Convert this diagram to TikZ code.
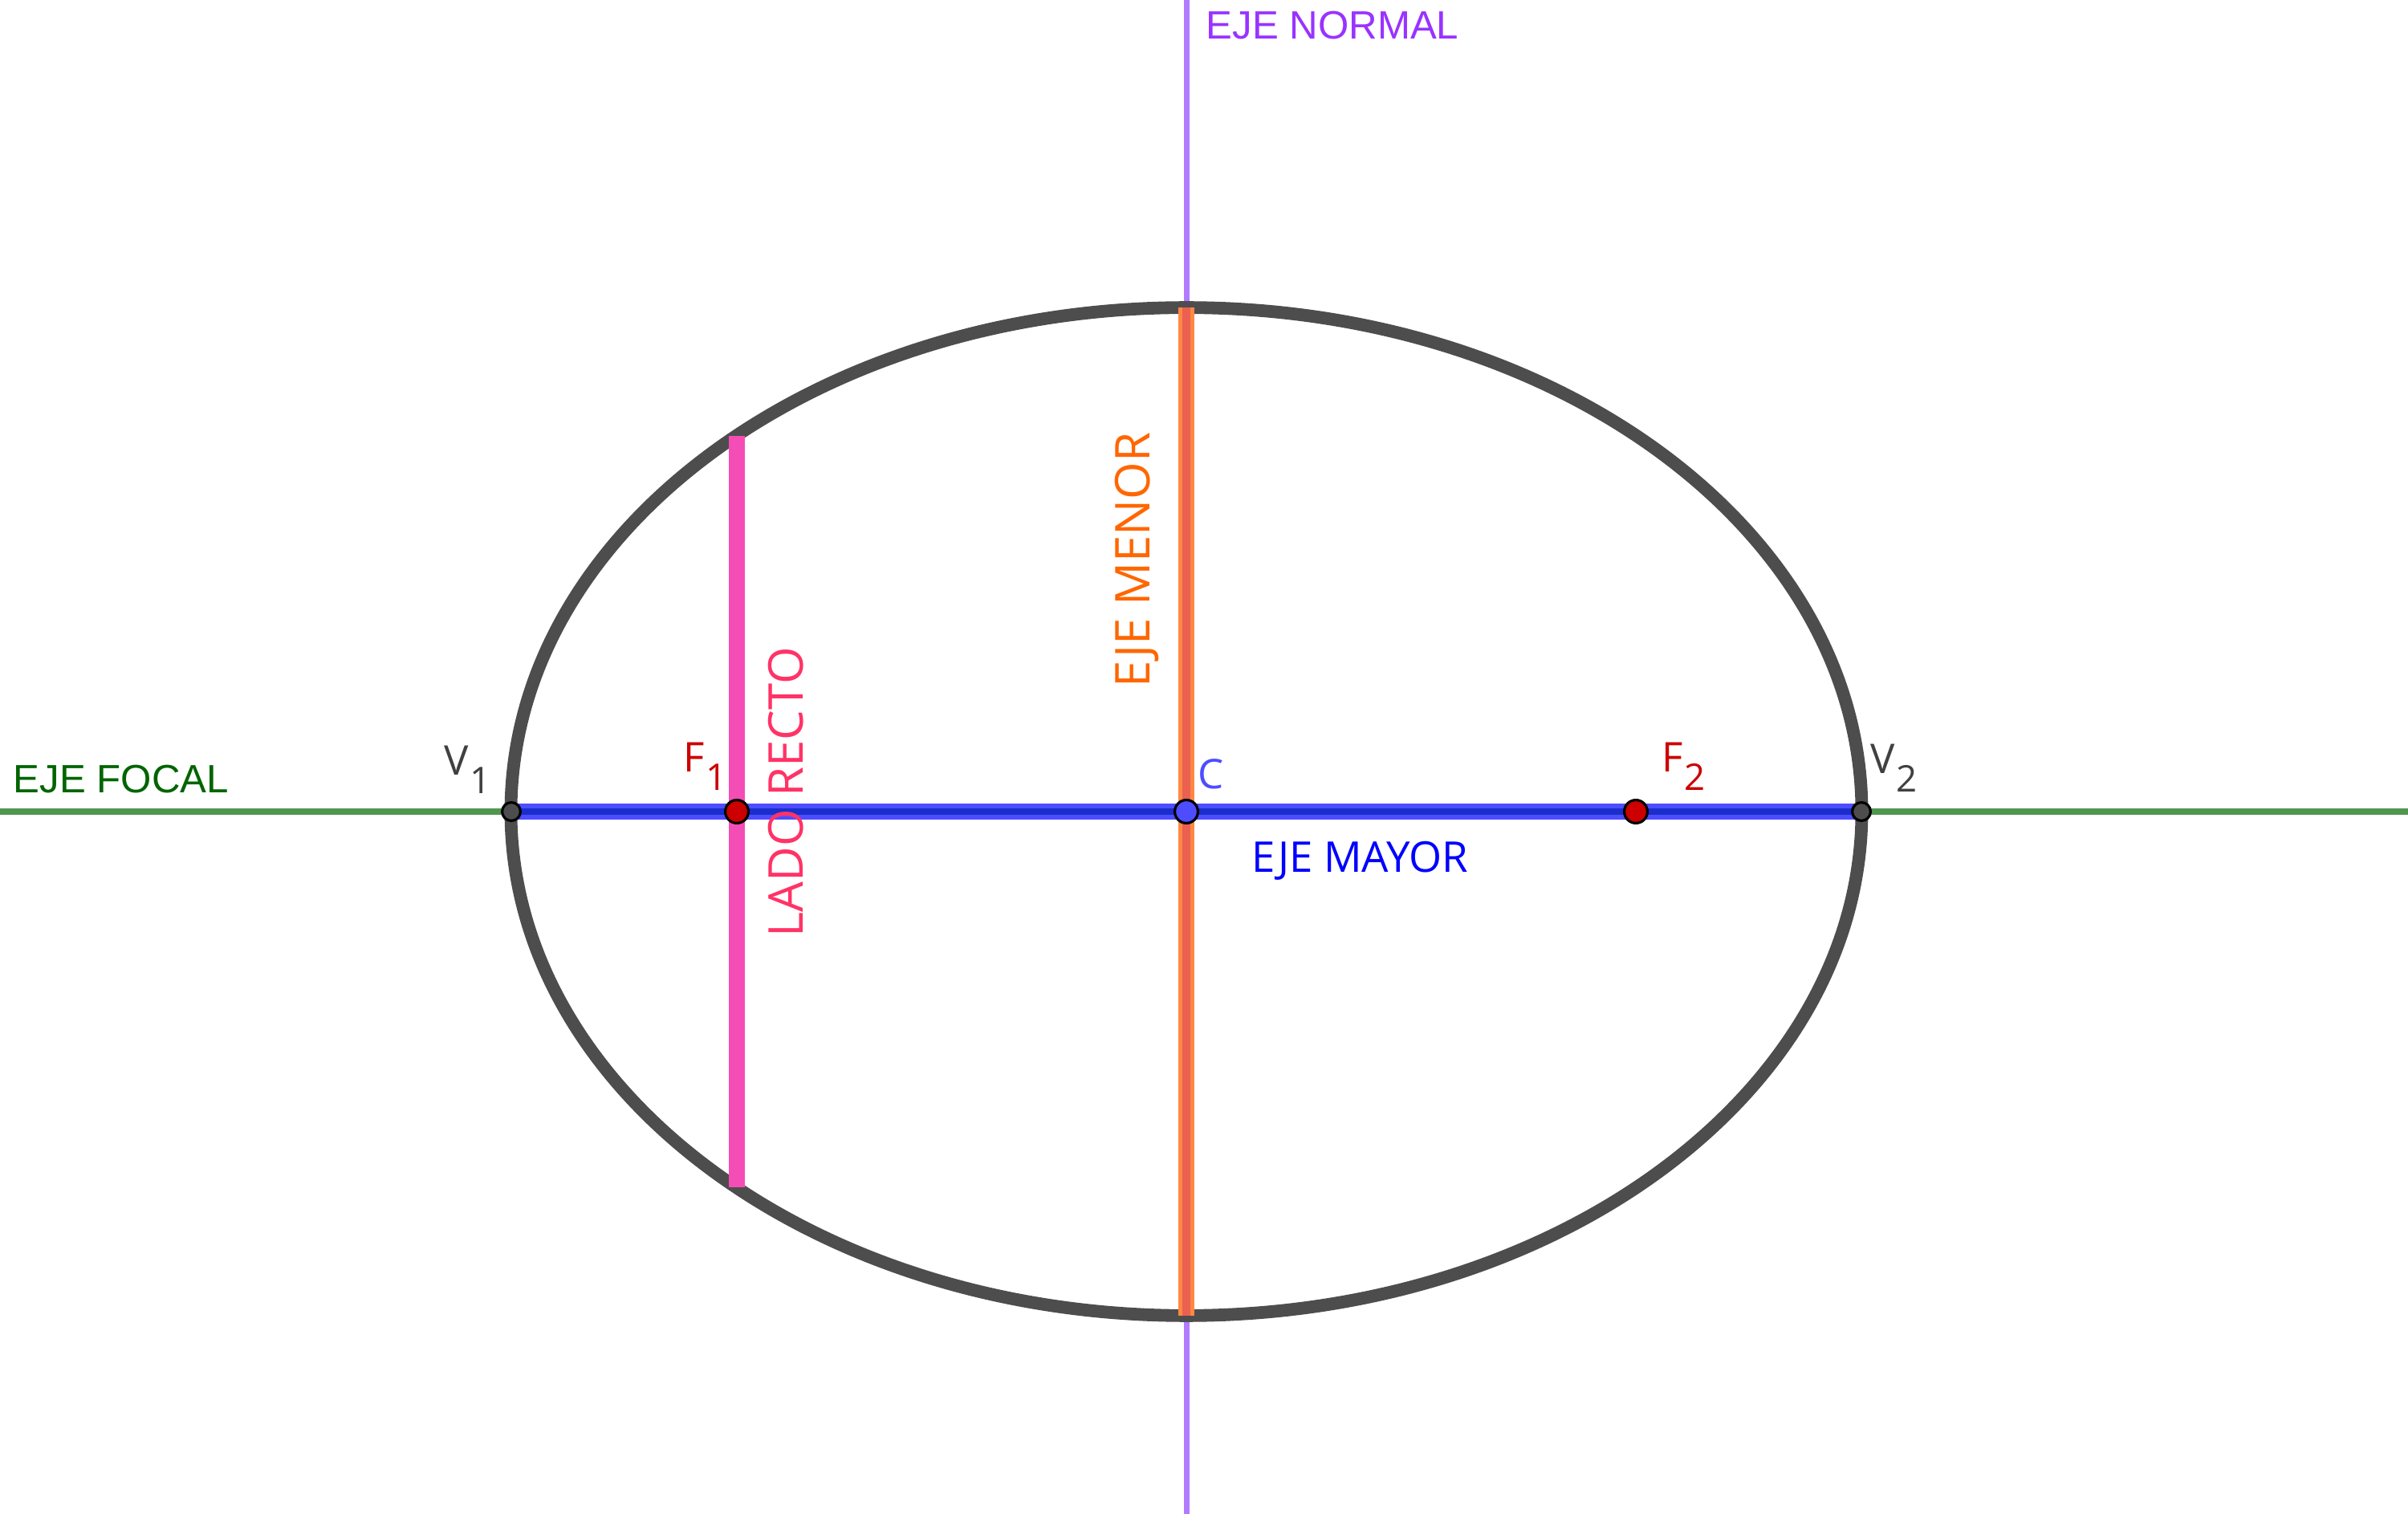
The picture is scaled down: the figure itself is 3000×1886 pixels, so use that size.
\documentclass[tikz,border=0pt]{standalone}
\usepackage{fontspec}
\setmainfont{Open Sans}
\newfontfamily\axisfont{Liberation Sans}

\definecolor{focalline}{RGB}{80,150,80}
\definecolor{focaltext}{RGB}{0,100,0}
\definecolor{normalline}{RGB}{178,122,255}
\definecolor{normaltext}{RGB}{153,51,255}
\definecolor{ellgray}{RGB}{77,77,77}
\definecolor{majorblue}{RGB}{77,77,255}
\definecolor{majordark}{RGB}{26,46,204}
\definecolor{majortext}{RGB}{0,0,255}
\definecolor{minororange}{RGB}{255,136,68}
\definecolor{minordark}{RGB}{235,96,80}
\definecolor{minortext}{RGB}{255,102,0}
\definecolor{latuspink}{RGB}{245,77,182}
\definecolor{latustext}{RGB}{255,51,102}
\definecolor{focusred}{RGB}{204,0,0}
\definecolor{vertexgray}{RGB}{64,64,64}

\newcommand{\sublbl}[2]{#1\kern0.5pt\raisebox{-6.5pt}{\fontsize{13}{13}\selectfont #2}}

\tikzset{
    axisline/.style={line width=2pt},
    axislbl/.style={anchor=base west, inner sep=0pt, font=\axisfont\fontsize{14}{14}\selectfont},
    seglbl/.style={anchor=base west, inner sep=0pt, font=\fontsize{17}{17}\selectfont},
    ptlbl/.style={anchor=base west, inner sep=0pt, font=\fontsize{14.5}{14.5}\selectfont},
    vertexpt/.style={circle, draw=black, line width=0.9pt, fill=ellgray, inner sep=0pt, minimum size=6.5pt},
    focuspt/.style={circle, draw=black, line width=0.9pt, fill=focusred, inner sep=0pt, minimum size=8.2pt},
}

\begin{document}
\begin{tikzpicture}[x=0.01cm, y=-0.01cm]
\useasboundingbox (0,0) rectangle (3000,1886);

% ---- key points ----
\coordinate (C) at (1478,1011);
\coordinate (V1) at (637,1011);
\coordinate (V2) at (2319,1011);
\coordinate (F1) at (918,1011);
\coordinate (F2) at (2038,1011);
\coordinate (B1) at (1478,383.5);
\coordinate (B2) at (1478,1638.5);
\coordinate (L1) at (918,543);
\coordinate (L2) at (918,1479);
\coordinate (focL) at (0,1011);
\coordinate (focR) at (3000,1011);
\coordinate (norT) at (1478,0);
\coordinate (norB) at (1478,1886);

% ---- axes ----
\draw[axisline, focalline] (focL) -- (focR);
\draw[axisline, normalline] (norT) -- (norB);

% ---- ellipse ----
\draw[ellgray, line width=4.5pt] (C) ellipse [x radius=8.41cm, y radius=6.275cm];

% ---- segments ----
\draw[latuspink, line width=5.7pt] (L1) -- (L2);
\draw[draw=minororange, double=minordark, line width=1.4pt, double distance=2.9pt] (B1) -- (B2);
\draw[draw=majorblue, double=majordark, line width=1.7pt, double distance=2.3pt] (V1) -- (V2);

% ---- points ----
\node[vertexpt] (v1) at (V1) {};
\node[vertexpt] (v2) at (V2) {};
\node[focuspt] (f1) at (F1) {};
\node[focuspt] (f2) at (F2) {};
\node[focuspt, fill=majorblue] (c) at (C) {};

% ---- labels ----
\node[ptlbl, vertexgray] (v1lbl) at (553,966) {\sublbl{V}{1}};
\node[ptlbl, vertexgray] (v2lbl) at (2330,964) {\sublbl{V}{2}};
\node[ptlbl, focusred] (f1lbl) at (851,962) {\sublbl{F}{1}};
\node[ptlbl, focusred] (f2lbl) at (2070,962) {\sublbl{F}{2}};
\node[ptlbl, majorblue] (clbl) at (1492,983) {C};

\node[axislbl, focaltext] (foclbl) at (16,988) {EJE FOCAL};
\node[axislbl, normaltext] (norlbl) at (1502,49) {EJE NORMAL};
\node[seglbl, majortext, font=\fontsize{15}{15}\selectfont] (majlbl) at (1559,1087) {EJE MAYOR};
\node[seglbl, minortext, rotate=90] (minlbl) at (1432,857) {EJE MENOR};
\node[seglbl, latustext, rotate=90] (latlbl) at (1000,1168) {LADO RECTO};

\end{tikzpicture}
\end{document}
